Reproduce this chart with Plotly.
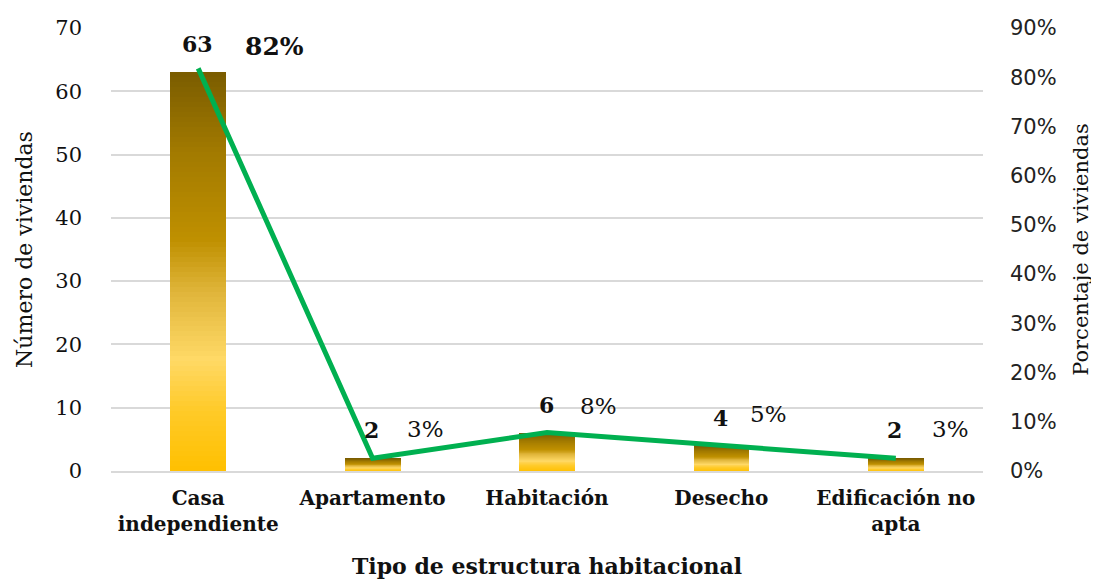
import plotly.graph_objects as go

categories = ["Casa<br>independiente", "Apartamento", "Habitación", "Desecho", "Edificación no<br>apta"]
counts = [63, 2, 6, 4, 2]
percents = [0.818, 0.026, 0.078, 0.052, 0.026]
count_labels = ["63", "2", "6", "4", "2"]
pct_labels = ["82%", "3%", "8%", "5%", "3%"]
left_ticks = [0, 10, 20, 30, 40, 50, 60, 70]
right_ticks = [0, 0.1, 0.2, 0.3, 0.4, 0.5, 0.6, 0.7, 0.8, 0.9]
right_tick_text = ["0%", "10%", "20%", "30%", "40%", "50%", "60%", "70%", "80%", "90%"]

# gradient stops (fraction from bottom of each bar, color)
stops = [(0.0, (255, 192, 0)), (0.15, (255, 202, 40)), (0.28, (255, 217, 102)),
         (0.45, (224, 181, 58)), (0.58, (191, 144, 0)), (0.8, (162, 122, 0)),
         (1.0, (122, 92, 0))]

def grad(f):
    for (f0, c0), (f1, c1) in zip(stops[:-1], stops[1:]):
        if f0 <= f <= f1:
            t = (f - f0) / (f1 - f0)
            return "rgb(%d,%d,%d)" % tuple(round(a + (b - a) * t) for a, b in zip(c0, c1))
    return "rgb(%d,%d,%d)" % stops[-1][1]

SERIF = "DejaVu Serif"
fig = go.Figure()
N = 80
for i in range(N):
    f = (i + 0.5) / N
    fig.add_trace(go.Bar(
        x=categories, y=[v / N for v in counts],
        marker=dict(color=grad(f), line=dict(width=0)),
        width=0.32, showlegend=False, hoverinfo="skip", yaxis="y"))

fig.add_trace(go.Scatter(
    x=categories, y=percents, yaxis="y2", mode="lines",
    line=dict(color="#00B050", width=5), showlegend=False))

x_shifts = [76, 53, 51, 47, 55]
y_shifts = [22, 29, 27, 31, 29]
for i, c in enumerate(categories):
    fig.add_annotation(x=c, y=counts[i], yref="y", text="<b>%s</b>" % count_labels[i],
                       showarrow=False, yshift=28, xshift=-1,
                       font=dict(family=SERIF, size=22, color="#111"))
    txt = "<b>%s</b>" % pct_labels[i] if i == 0 else pct_labels[i]
    fig.add_annotation(x=c, y=percents[i], yref="y2", text=txt,
                       showarrow=False, yshift=y_shifts[i], xshift=x_shifts[i],
                       font=dict(family=SERIF, size=25 if i == 0 else 23, color="#111"))

fig.update_layout(
    template="none",
    width=1091, height=573, barmode="stack", bargap=0.68,
    plot_bgcolor="white", paper_bgcolor="white",
    margin=dict(l=103, r=116, t=20, b=110),
    xaxis=dict(
        automargin=False,
        tickfont=dict(family=SERIF, size=20, color="#111", weight="bold"),
        showline=True, linecolor="#D9D9D9", linewidth=2, ticks="", showgrid=False,
        ticklabelstandoff=8,
        title=dict(text="<b>Tipo de estructura habitacional</b>",
                   font=dict(family=SERIF, size=22, color="#111"), standoff=24),
    ),
    yaxis=dict(
        automargin=False,
        range=[0, 70], tickvals=left_ticks, ticks="",
        tickfont=dict(family=SERIF, size=21, color="#111"),
        gridcolor="#D9D9D9", gridwidth=2, zeroline=False, ticklabelstandoff=28,
        title=dict(text="Número de viviendas", font=dict(family=SERIF, size=22, color="#111"),
                   standoff=16),
    ),
    yaxis2=dict(
        automargin=False,
        overlaying="y", side="right", range=[0, 0.9], ticks="",
        tickvals=right_ticks, ticktext=right_tick_text, showgrid=False, zeroline=False,
        tickfont=dict(family="DejaVu Sans", size=21, color="#222"), ticklabelstandoff=26,
        title=dict(text="Porcentaje de viviendas", font=dict(family=SERIF, size=21, color="#111"),
                   standoff=17),
    ),
)
fig.write_html("out.html")
